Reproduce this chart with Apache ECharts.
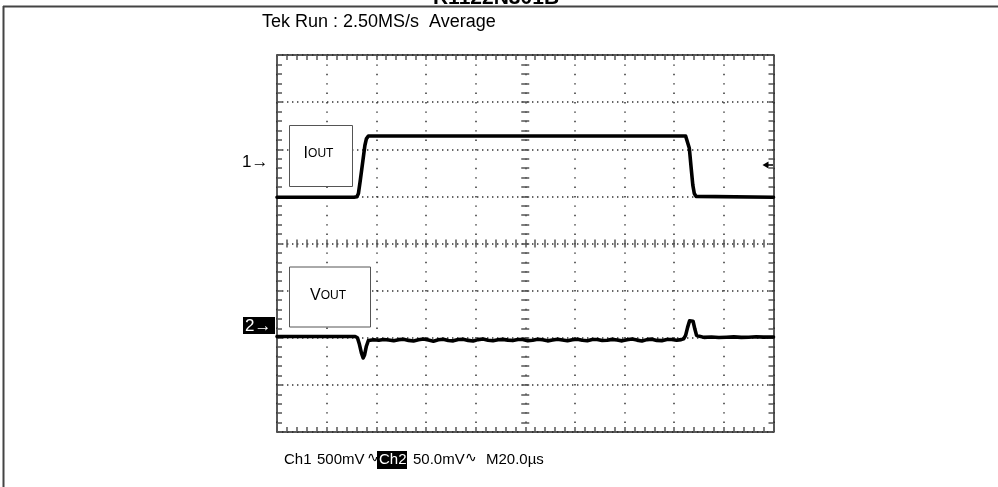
<!DOCTYPE html>
<html>
<head>
<meta charset="utf-8">
<script src="https://cdn.jsdelivr.net/npm/echarts@6/dist/echarts.min.js"></script>
<style>
  html, body { margin: 0; padding: 0; background: #fff; }
  #chart { width: 998px; height: 487px; }
</style>
</head>
<body>
<div id="chart"></div>
<script>
// Scope capture: load-transient response, 10 x 8 division graticule.
const TIME_RANGE = [0, 200];          // µs across the screen (M20.0µs per division)
const TIME_STEP = 20;
const DIV_RANGE = [-4, 4];            // vertical divisions

// Channel settings
const CH1_VOLTS_PER_DIV = 0.5;        // 500mV/div
const CH1_REF_DIV = 1.72;             // position of the "1→" marker in divisions
const CH2_MV_PER_DIV = 50;            // 50.0mV/div
const CH2_REF_DIV = -1.78;            // position of the "2→" marker in divisions

// CH1: output current (probe voltage, V) vs time (µs)
const ch1Time = [0, 31.0, 32.2, 32.8, 33.5, 34.5, 35.4, 36.0, 36.8, 164.6, 165.4, 166.1, 166.8, 167.5, 168.1, 168.8, 169.6, 200];
const ch1Volt = [-0.37, -0.37, -0.365, -0.33, -0.2, 0.0, 0.18, 0.25, 0.28, 0.28, 0.265, 0.15, -0.05, -0.24, -0.33, -0.36, -0.37, -0.37];

// CH2: output voltage deviation (mV) vs time (µs)
const ch2Time = [0, 20, 31.5, 32.4, 33.2, 34.0, 34.7, 35.3, 36.0, 36.8, 37.6,
  39, 41, 43, 45, 47, 49, 51, 53, 55, 57, 59, 61, 63, 65, 67, 69, 71, 73, 75, 77, 79,
  81, 83, 85, 87, 89, 91, 93, 95, 97, 99, 101, 103, 105, 107, 109, 111, 113, 115, 117, 119,
  121, 123, 125, 127, 129, 131, 133, 135, 137, 139, 141, 143, 145, 147, 149, 151, 153, 155,
  157, 159, 161, 162.8, 163.8, 164.6, 165.4, 166.2, 166.9, 167.6, 168.3, 169.0, 169.8,
  172, 175, 178, 181, 184, 187, 190, 193, 196, 200];
const ch2MilliVolt = [-9.6, -9.6, -9.7, -11, -18, -27, -32.5, -29, -20, -14, -12.6,
  -13.2, -13.6, -12.8, -13.4, -14.2, -13.0, -12.6, -13.8, -14.4, -13.1, -12.4, -13.5, -14.6, -13.2, -12.5, -13.9, -14.3, -12.9, -12.6, -13.8, -14.5,
  -13.0, -12.3, -13.6, -14.2, -13.1, -12.7, -13.5, -14.0, -12.8, -12.9, -14.1, -13.6, -12.6, -13.2, -14.3, -13.4, -12.5, -13.3, -14.2, -13.0,
  -12.6, -13.7, -14.1, -12.9, -12.8, -13.9, -13.6, -12.7, -13.4, -14.3, -13.1, -12.4, -13.5, -14.4, -13.0, -12.5, -13.8, -14.1,
  -12.8, -12.9, -13.7, -13.0, -12.2, -8.5, 0, 7, 8.8, 6.5, -1.5, -8.5, -10.4,
  -10.6, -10.2, -10.8, -10.5, -10.1, -10.6, -10.4, -10.0, -10.3, -10.2];

const FONT = '"Liberation Sans", Arial, "DejaVu Sans", sans-serif';
const GRID = { left: 277, top: 55, width: 496.5, height: 377 };

const zip = (a, b) => a.map((v, i) => [v, b[i]]);

const tickStyle = { color: '#555', width: 1.5 };
const borderLine = { show: true, onZero: false, lineStyle: { color: '#222', width: 1.5 } };

function borderX(position, withSplit) {
  return {
    type: 'value', gridIndex: 0, position: position,
    min: TIME_RANGE[0], max: TIME_RANGE[1], interval: TIME_STEP,
    axisLine: borderLine,
    axisTick: { show: true, inside: true, length: 5, lineStyle: tickStyle },
    minorTick: { show: true, splitNumber: 5, length: 5, lineStyle: tickStyle },
    axisLabel: { show: false },
    splitLine: { show: withSplit, lineStyle: { color: '#333', width: 1.5, type: [1.4, 8] } }
  };
}
function borderY(position, withSplit) {
  return {
    type: 'value', gridIndex: 0, position: position,
    min: DIV_RANGE[0], max: DIV_RANGE[1], interval: 1,
    axisLine: borderLine,
    axisTick: { show: true, inside: true, length: 5, lineStyle: tickStyle },
    minorTick: { show: true, splitNumber: 5, length: 5, lineStyle: tickStyle },
    axisLabel: { show: false },
    splitLine: { show: withSplit, lineStyle: { color: '#333', width: 1.5, type: [1.4, 3.6] } }
  };
}
// Hidden channel axes: ranges place each channel's marker at its division offset
function channelY(perDiv, refDiv) {
  return {
    type: 'value', gridIndex: 0, show: false,
    min: (DIV_RANGE[0] - refDiv) * perDiv,
    max: (DIV_RANGE[1] - refDiv) * perDiv
  };
}
// Center crosshair tick axes (second grid in division units)
function crossX(inside) {
  return {
    type: 'value', gridIndex: 1, position: 'bottom', min: -5, max: 5, interval: 1,
    axisLine: { show: false, onZero: true },
    axisTick: { show: true, inside: inside, length: 4, lineStyle: tickStyle },
    minorTick: { show: true, splitNumber: 5, length: 4, lineStyle: tickStyle },
    axisLabel: { show: false }, splitLine: { show: false }
  };
}
function crossY(inside) {
  return {
    type: 'value', gridIndex: 1, position: 'left', min: DIV_RANGE[0], max: DIV_RANGE[1], interval: 1,
    axisLine: { show: false, onZero: true },
    axisTick: { show: true, inside: inside, length: 4, lineStyle: tickStyle },
    minorTick: { show: true, splitNumber: 5, length: 4, lineStyle: tickStyle },
    axisLabel: { show: false }, splitLine: { show: false }
  };
}

const traceStyle = { color: '#000', width: 3.6, cap: 'round', join: 'round' };

const chart = echarts.init(document.getElementById('chart'), null, { renderer: 'canvas' });
chart.setOption({
  animation: false,
  backgroundColor: '#fff',
  grid: [
    Object.assign({ containLabel: false }, GRID),
    Object.assign({ containLabel: false }, GRID)
  ],
  xAxis: [borderX('bottom', true), borderX('top', false), crossX(true), crossX(false)],
  yAxis: [
    borderY('left', true), borderY('right', false),
    channelY(CH1_VOLTS_PER_DIV, CH1_REF_DIV), channelY(CH2_MV_PER_DIV, CH2_REF_DIV),
    crossY(true), crossY(false)
  ],
  series: [
    {
      name: 'Ch1', type: 'line', xAxisIndex: 0, yAxisIndex: 2,
      data: zip(ch1Time, ch1Volt), showSymbol: false, lineStyle: traceStyle, z: 5
    },
    {
      name: 'Ch2', type: 'line', xAxisIndex: 0, yAxisIndex: 3,
      data: zip(ch2Time, ch2MilliVolt), showSymbol: false, lineStyle: traceStyle, z: 5
    }
  ],
  graphic: [
    // outer frame
    { type: 'line', shape: { x1: 3, y1: 6.5, x2: 998, y2: 6.5 }, style: { stroke: '#444', lineWidth: 2 } },
    { type: 'line', shape: { x1: 3.5, y1: 6, x2: 3.5, y2: 487 }, style: { stroke: '#444', lineWidth: 2 } },
    // part number heading
    { type: 'text', x: 496, y: 9,
      style: { text: 'R1122N301B', font: 'bold 21px ' + FONT, fill: '#000', textAlign: 'center', textVerticalAlign: 'bottom' } },
    // acquisition status
    { type: 'text', x: 262, y: 22,
      style: { text: 'Tek Run : 2.50MS/s  Average', font: '18px ' + FONT, fill: '#000', textVerticalAlign: 'middle' } },
    // channel 1 marker
    { type: 'text', x: 242, y: 162,
      style: { text: '1→', font: '17px ' + FONT, fill: '#000', textVerticalAlign: 'middle' } },
    // trigger level marker
    { type: 'polygon', shape: { points: [[762.5, 165], [768.5, 161.5], [768.5, 168.5]] }, style: { fill: '#000' } },
    { type: 'line', shape: { x1: 767, y1: 165, x2: 773, y2: 165 }, style: { stroke: '#000', lineWidth: 1.5 } },
    // channel 2 marker
    { type: 'rect', shape: { x: 243, y: 317, width: 32, height: 17 }, style: { fill: '#000' } },
    { type: 'text', x: 245, y: 326,
      style: { text: '2→', font: '17px ' + FONT, fill: '#fff', textVerticalAlign: 'middle' } },
    // IOUT label box
    { type: 'rect', shape: { x: 289.5, y: 125.5, width: 63, height: 61 }, style: { fill: '#fff', stroke: '#555', lineWidth: 1 }, z: 10 },
    { type: 'text', x: 318.5, y: 162, z: 11,
      style: { rich: { a: { font: '16px ' + FONT, fill: '#000' }, b: { font: '12px ' + FONT, fill: '#000' } },
               text: '{a|I}{b|OUT}', textAlign: 'center', textVerticalAlign: 'bottom' } },
    // VOUT label box
    { type: 'rect', shape: { x: 289.5, y: 267, width: 81, height: 60 }, style: { fill: '#fff', stroke: '#555', lineWidth: 1 }, z: 10 },
    { type: 'text', x: 328, y: 304, z: 11,
      style: { rich: { a: { font: '16px ' + FONT, fill: '#000' }, b: { font: '12px ' + FONT, fill: '#000' } },
               text: '{a|V}{b|OUT}', textAlign: 'center', textVerticalAlign: 'bottom' } },
    // channel settings readout
    { type: 'text', x: 284, y: 460,
      style: { text: 'Ch1', font: '15px ' + FONT, fill: '#000', textVerticalAlign: 'middle' } },
    { type: 'text', x: 317, y: 460,
      style: { text: '500mV', font: '15px ' + FONT, fill: '#000', textVerticalAlign: 'middle' } },
    { type: 'text', x: 367, y: 458,
      style: { text: '∿', font: '14px "DejaVu Sans", sans-serif', fill: '#000', textVerticalAlign: 'middle' } },
    { type: 'rect', shape: { x: 377, y: 451, width: 30, height: 18 }, style: { fill: '#000' } },
    { type: 'text', x: 379, y: 460,
      style: { text: 'Ch2', font: '15px ' + FONT, fill: '#fff', textVerticalAlign: 'middle' } },
    { type: 'text', x: 413, y: 460,
      style: { text: '50.0mV', font: '15px ' + FONT, fill: '#000', textVerticalAlign: 'middle' } },
    { type: 'text', x: 465, y: 458,
      style: { text: '∿', font: '14px "DejaVu Sans", sans-serif', fill: '#000', textVerticalAlign: 'middle' } },
    { type: 'text', x: 486, y: 460,
      style: { text: 'M20.0µs', font: '15px ' + FONT, fill: '#000', textVerticalAlign: 'middle' } }
  ]
});
</script>
</body>
</html>
